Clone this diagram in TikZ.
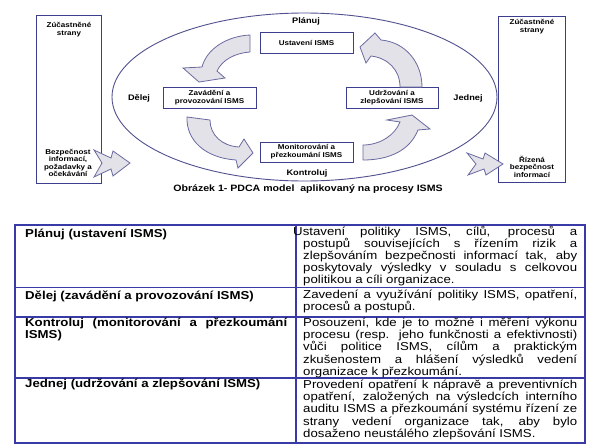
\documentclass[tikz,border=0pt]{standalone}
\usepackage{fontspec}
\setmainfont[FakeStretch=1.15]{Liberation Sans}
\definecolor{boxc}{HTML}{3E3E8E}
\definecolor{ellc}{HTML}{50508E}
\definecolor{arrf}{HTML}{E2E2E8}
\definecolor{arrd}{HTML}{6A6AA0}
\definecolor{tblc}{HTML}{3A3AA6}
\newcommand{\jbline}[1]{\hbox to \hsize{#1}}
\newcommand{\tabreg}{\fontsize{11.5}{12.4}\selectfont}
\newcommand{\tabbf}{\fontsize{11.5}{12.4}\selectfont\bfseries}
\begin{document}
\begin{tikzpicture}[x=1pt,y=-1pt,
  pbox/.style={draw=boxc, line width=0.9pt, fill=white, inner sep=0pt, align=center, font=\fontsize{7}{8}\selectfont\bfseries},
  tallbox/.style={draw=boxc, line width=0.9pt, inner sep=0pt},
  small/.style={inner sep=0pt, align=center, font=\fontsize{7}{7.4}\selectfont\bfseries},
  phase/.style={inner sep=0pt, font=\fontsize{8}{9}\selectfont\bfseries},
  bigarrow/.style={draw=arrd, fill=arrf, line width=0.8pt, line join=miter},
  cellr/.style={anchor=base west, inner sep=0pt, font=\tabreg},
  celll/.style={anchor=base west, inner sep=0pt, font=\tabbf}]
\useasboundingbox (0,0) rectangle (603,445);

% ellipse
\draw[ellc, line width=0.9pt] (304.5,97) ellipse [x radius=192.5, y radius=84];

% side boxes
\node[tallbox, minimum width=65pt, minimum height=168pt] (lbox) at (68.5,99) {};
\node[tallbox, minimum width=67pt, minimum height=166pt] (rbox) at (531.5,99) {};
\node[small] (ltop) at (69,29.5) {Zúčastněné\\strany};
\node[small] (lbot) at (68,163) {Bezpečnost\\informací,\\požadavky a\\očekávání};
\node[small] (rtop) at (532,26.5) {Zúčastněné\\strany};
\node[small] (rbot) at (532,166.5) {Řízená\\bezpečnost\\informací};

% jagged input/output arrows
\draw[bigarrow] (94,150) -- (111,158) -- (113,151) -- (130,163) -- (113,176) -- (111,169) -- (94,177) -- (102,163) -- cycle;
\draw[bigarrow] (467,153) -- (483,159) -- (485,153) -- (503,164) -- (486,175) -- (484,169) -- (468,175) -- (476,164) -- cycle;

% process boxes
\node[pbox, minimum width=93pt, minimum height=21pt] (plan) at (306.5,42.5) {Ustavení ISMS};
\node[pbox, minimum width=93pt, minimum height=21pt] (do) at (209.5,97.5) {Zavádění a\\provozování ISMS};
\node[pbox, minimum width=92pt, minimum height=21pt] (act) at (392,97.5) {Udržování a\\zlepšování ISMS};
\node[pbox, minimum width=93pt, minimum height=20pt] (check) at (306.5,152) {Monitorování a\\přezkoumání ISMS};

% phase labels
\node[phase] (lplan) at (306,21) {Plánuj};
\node[phase] (ldo) at (139,98) {Dělej};
\node[phase] (lact) at (468,98) {Jednej};
\node[phase] (lcheck) at (307,173) {Kontroluj};

% curved cycle arrows
\draw[bigarrow] (250,35) .. controls (228,36) and (207,48) .. (202,67) -- (183,68) -- (199,82) -- (225,78) -- (217,71) .. controls (222,60) and (235,53) .. (250,52) -- cycle;
\draw[bigarrow] (422,87) .. controls (422,62) and (405,42) .. (381,40) -- (375,33) -- (360,47) -- (366,63) -- (371,56) .. controls (388,58) and (400,70) .. (400,87) -- cycle;
\draw[bigarrow] (187,117) .. controls (186,140) and (205,158) .. (236,160) -- (238,168) -- (253,153) -- (244,139) -- (239,147) .. controls (222,146) and (210,135) .. (210,120) -- cycle;
\draw[bigarrow] (363,160) .. controls (390,160) and (410,150) .. (418,130) -- (430,129) -- (412,115) -- (387,120) -- (400,122) .. controls (395,135) and (380,145) .. (363,145) -- cycle;

% caption
\node[inner sep=0pt, font=\fontsize{9.2}{10}\selectfont\bfseries] (cap) at (308,189) {Obrázek 1- PDCA model\ \ aplikovaný na procesy ISMS};

% table
\draw[tblc, line width=1.2pt] (296,225) -- (296,443);
\draw[tblc, line width=1.2pt] (15,287.5) -- (585,287.5);
\draw[tblc, line width=1.2pt] (15,317) -- (585,317);
\draw[tblc, line width=1.2pt] (15,378) -- (585,378);
\draw[tblc, line width=1.8pt] (15,225) rectangle (585,443);

\node[celll] (l1) at (25,237) {Plánuj (ustavení ISMS)};
\node[celll] (l2) at (25,299) {Dělej (zavádění a provozování ISMS)};
\node[celll] (l3) at (25,326) {\vtop{\hsize=262pt\jbline{Kontroluj (monitorování a přezkoumání}\hbox{ISMS)}}};
\node[celll] (l4) at (25,387) {Jednej (udržování a zlepšování ISMS)};

\node[cellr] (r1) at (303,235) {\vtop{\baselineskip=12.2pt\hsize=274pt\jbline{\hskip-10pt Ustavení politiky ISMS, cílů, procesů a}\jbline{postupů souvisejících s řízením rizik a}\jbline{zlepšováním bezpečnosti informací tak, aby}\jbline{poskytovaly výsledky v souladu s celkovou}\hbox{politikou a cíli organizace.}}};
\node[cellr] (r2) at (303,298) {\vtop{\hsize=274pt\jbline{Zavedení a využívání politiky ISMS, opatření,}\hbox{procesů a postupů.}}};
\node[cellr] (r3) at (303,326) {\vtop{\hsize=274pt\jbline{Posouzení, kde je to možné i měření výkonu}\jbline{procesu (resp. jeho funkčnosti a efektivnosti)}\jbline{vůči politice ISMS, cílům a praktickým}\jbline{zkušenostem a hlášení výsledků vedení}\hbox{organizace k přezkoumání.}}};
\node[cellr] (r4) at (303,388) {\vtop{\hsize=274pt\jbline{Provedení opatření k nápravě a preventivních}\jbline{opatření, založených na výsledcích interního}\jbline{auditu ISMS a přezkoumání systému řízení ze}\jbline{strany vedení organizace tak, aby bylo}\hbox{dosaženo neustálého zlepšování ISMS.}}};
\end{tikzpicture}
\end{document}
